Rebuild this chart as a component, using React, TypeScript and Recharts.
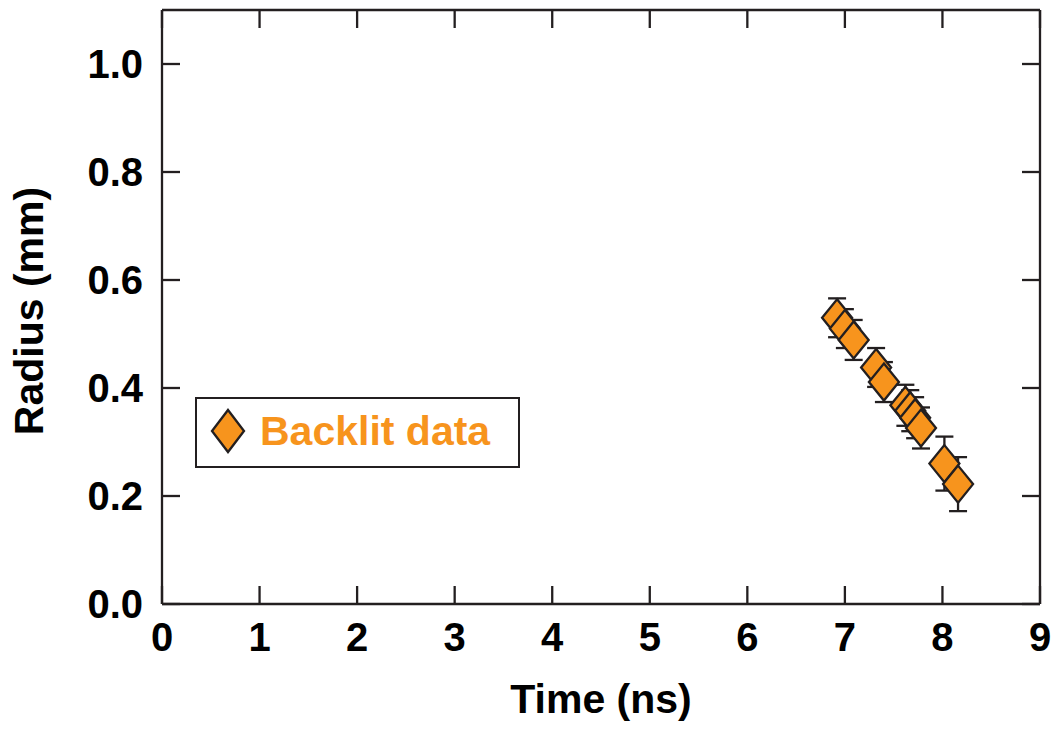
import React from 'react';
import { ScatterChart, Scatter, XAxis, YAxis, ErrorBar } from 'recharts';

const times = [6.92, 7.0, 7.09, 7.32, 7.4, 7.62, 7.67, 7.72, 7.78, 8.02, 8.16];
const radii = [0.53, 0.51, 0.489, 0.438, 0.411, 0.368, 0.358, 0.345, 0.326, 0.26, 0.222];
const errors = [0.036, 0.036, 0.037, 0.036, 0.037, 0.038, 0.038, 0.038, 0.038, 0.05, 0.05];
const xTicks = [0, 1, 2, 3, 4, 5, 6, 7, 8, 9];
const yTicks = [0, 0.2, 0.4, 0.6, 0.8, 1.0];
const seriesName = 'Backlit data';

const points = times.map((t, i) => ({ t, r: radii[i], err: errors[i] }));

const INK = '#231f20';
const ORANGE = '#f7941d';
const FONT = '"Liberation Sans", Arial, Helvetica, sans-serif';
const TICK_LEN = 18;
const SW = 2.3;

const Diamond = (props: any) => {
  const { cx, cy } = props;
  if (cx == null || cy == null) return null;
  const hw = 15;
  const hh = 18.5;
  return (
    <polygon
      points={`${cx},${cy - hh} ${cx + hw},${cy} ${cx},${cy + hh} ${cx - hw},${cy}`}
      fill={ORANGE}
      stroke={INK}
      strokeWidth={SW}
      strokeLinejoin="miter"
    />
  );
};

const BottomTick = (props: any) => {
  const { x, y, payload } = props;
  return (
    <g>
      <line x1={x} y1={y} x2={x} y2={y - TICK_LEN} stroke={INK} strokeWidth={SW} />
      <text x={x} y={y + 19} dy="0.71em" textAnchor="middle" fontFamily={FONT} fontWeight="bold" fontSize={40} fill="#000">
        {payload.value}
      </text>
    </g>
  );
};

const TopTick = (props: any) => {
  const { x, y } = props;
  return <line x1={x} y1={y} x2={x} y2={y + TICK_LEN} stroke={INK} strokeWidth={SW} />;
};

const LeftTick = (props: any) => {
  const { x, y, payload } = props;
  return (
    <g>
      <line x1={x} y1={y} x2={x + TICK_LEN} y2={y} stroke={INK} strokeWidth={SW} />
      <text x={x - 19} y={y} dy="0.36em" textAnchor="end" fontFamily={FONT} fontWeight="bold" fontSize={40} fill="#000">
        {Number(payload.value).toFixed(1)}
      </text>
    </g>
  );
};

const RightTick = (props: any) => {
  const { x, y } = props;
  return <line x1={x} y1={y} x2={x - TICK_LEN} y2={y} stroke={INK} strokeWidth={SW} />;
};

const XTitle = (props: any) => {
  const vb = props.viewBox || {};
  const cx = vb.x + vb.width / 2;
  return (
    <text x={cx} y={713} textAnchor="middle" fontFamily={FONT} fontWeight="bold" fontSize={41} fill="#000">
      Time (ns)
    </text>
  );
};

const YTitle = () => {
  const x = 43;
  const y = 311;
  return (
    <text x={x} y={y} transform={`rotate(-90, ${x}, ${y})`} textAnchor="middle" fontFamily={FONT} fontWeight="bold" fontSize={41} fill="#000">
      Radius (mm)
    </text>
  );
};

export default function App() {
  return (
    <div style={{ position: 'absolute', left: 0, top: 0, width: 1053, height: 730, background: '#fff' }}>
      <ScatterChart width={1053} height={730} margin={{ top: 9, right: 12, bottom: 0, left: 0 }}>
        <XAxis
          xAxisId="bottom"
          type="number"
          dataKey="t"
          domain={[0, 9]}
          ticks={xTicks}
          orientation="bottom"
          height={126}
          tickSize={0}
          tickMargin={0}
          tickLine={false}
          axisLine={{ stroke: INK, strokeWidth: SW }}
          tick={<BottomTick />}
          interval={0}
          allowDataOverflow
          label={<XTitle />}
        />
        <XAxis
          xAxisId="top"
          type="number"
          dataKey="t"
          domain={[0, 9]}
          ticks={xTicks}
          orientation="top"
          height={1}
          tickSize={0}
          tickMargin={0}
          tickLine={false}
          axisLine={{ stroke: INK, strokeWidth: SW }}
          tick={<TopTick />}
          interval={0}
          allowDataOverflow
        />
        <YAxis
          yAxisId="left"
          type="number"
          dataKey="r"
          domain={[0, 1.1]}
          ticks={yTicks}
          orientation="left"
          width={162}
          tickSize={0}
          tickMargin={0}
          tickLine={false}
          axisLine={{ stroke: INK, strokeWidth: SW }}
          tick={<LeftTick />}
          interval={0}
          allowDataOverflow
          label={<YTitle />}
        />
        <YAxis
          yAxisId="right"
          type="number"
          dataKey="r"
          domain={[0, 1.1]}
          ticks={yTicks}
          orientation="right"
          width={1}
          tickSize={0}
          tickMargin={0}
          tickLine={false}
          axisLine={{ stroke: INK, strokeWidth: SW }}
          tick={<RightTick />}
          interval={0}
          allowDataOverflow
        />
        {points.map((p, i) => (
          <Scatter
            key={i}
            name={seriesName}
            data={[p]}
            xAxisId="bottom"
            yAxisId="left"
            dataKey="r"
            shape={<Diamond />}
            isAnimationActive={false}
          >
            <ErrorBar dataKey="err" direction="y" width={9} stroke={INK} strokeWidth={SW} isAnimationActive={false} />
          </Scatter>
        ))}
      </ScatterChart>
      <div
        style={{
          position: 'absolute',
          left: 195,
          top: 397,
          width: 325,
          height: 71,
          boxSizing: 'border-box',
          border: `${SW}px solid ${INK}`,
          background: '#fff',
        }}
      >
        <svg width={40} height={50} style={{ position: 'absolute', left: 11, top: 8 }}>
          <polygon points="20,3 36,24 20,45 4,24" fill={ORANGE} stroke={INK} strokeWidth={SW} />
        </svg>
        <span
          style={{
            position: 'absolute',
            left: 63,
            top: 8,
            fontFamily: FONT,
            fontWeight: 'bold',
            fontSize: 41,
            lineHeight: '48px',
            color: ORANGE,
            whiteSpace: 'nowrap',
          }}
        >
          {seriesName}
        </span>
      </div>
    </div>
  );
}
